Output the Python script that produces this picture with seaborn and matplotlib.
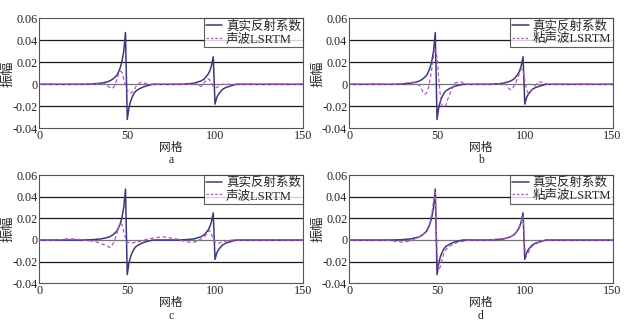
import matplotlib
matplotlib.use("Agg")
import matplotlib.pyplot as plt
import seaborn as sns
import pandas as pd

sns.set_theme(style="white")
plt.rcParams['font.family'] = ['Liberation Serif', 'Noto Sans CJK SC']
plt.rcParams['axes.unicode_minus'] = False

# ---------------- data ----------------
true_x = [0, 25, 30, 35, 38, 40, 42, 44, 45, 46, 47, 48, 49, 50, 51, 52, 53, 54, 55, 57, 59, 62, 65,
          80, 85, 88, 90, 92, 94, 95, 96, 97, 98, 99, 100, 101, 102, 103, 104, 106, 108, 110, 112, 150]
true_y = [0, 0, 0.0003, 0.001, 0.002, 0.003, 0.005, 0.008, 0.011, 0.015, 0.021, 0.03, 0.047, -0.032, -0.021,
          -0.015, -0.011, -0.008, -0.006, -0.004, -0.0025, -0.001, 0,
          0, 0.0005, 0.001, 0.002, 0.003, 0.005, 0.007, 0.009, 0.012, 0.017, 0.025, -0.018, -0.012,
          -0.009, -0.007, -0.005, -0.003, -0.002, -0.001, 0, 0]

a_x = [0, 30, 34, 36, 38, 40, 41, 42, 43, 44, 45, 46, 47, 48, 49, 50, 51, 52, 53, 54, 55, 56, 57, 58,
       60, 62, 64, 86, 89, 91, 92, 93, 94, 95, 96, 97, 98, 99, 100, 101, 102, 103, 104, 106, 150]
a_y = [0, 0, 0.001, 0.001, 0, -0.003, -0.004, -0.003, -0.001, 0.004, 0.009, 0.012, 0.011, 0.005, -0.001,
       -0.005, -0.007, -0.008, -0.007, -0.005, -0.002, 0, 0.001, 0.002, 0.001, 0, 0,
       0, 0.001, -0.001, -0.002, -0.001, 0.002, 0.004, 0.005, 0.004, 0.001, -0.002, -0.003, -0.003,
       -0.002, -0.001, 0, 0, 0]

b_x = [0, 28, 32, 36, 38, 40, 41, 42, 43, 44, 45, 46, 47, 48, 49, 50, 51, 52, 53, 54, 55, 56, 58,
       60, 62, 64, 66, 84, 87, 89, 90, 91, 92, 93, 94, 95, 96, 97, 98, 99, 100, 101, 102, 103, 104,
       105, 107, 108, 110, 113, 150]
b_y = [0, 0, 0.001, 0.002, 0.001, -0.001, -0.004, -0.007, -0.009, -0.008, -0.004, 0.004, 0.014, 0.025,
       0.031, 0.025, 0.005, -0.013, -0.02, -0.021, -0.019, -0.014, -0.006, 0.001, 0.002, 0.002, 0,
       0, 0.001, 0, -0.002, -0.004, -0.005, -0.004, -0.001, 0.002, 0.006, 0.01, 0.014, 0.013, 0.004,
       -0.005, -0.008, -0.007, -0.005, -0.003, 0.001, 0.002, 0.002, 0, 0]

c_x = [0, 10, 15, 20, 25, 30, 33, 36, 38, 40, 41, 42, 43, 44, 45, 46, 47, 48, 49, 50, 52, 55, 58, 62,
       66, 70, 74, 78, 82, 85, 88, 90, 92, 94, 95, 96, 97, 98, 99, 100, 102, 104, 106, 110, 150]
c_y = [0, 0, 0.001, 0.001, 0, -0.001, -0.002, -0.004, -0.005, -0.007, -0.006, -0.003, 0.001, 0.005,
       0.012, 0.016, 0.014, 0.008, 0.002, -0.002, -0.003, -0.002, -0.001, 0.001, 0.002, 0.003, 0.002,
       0.001, -0.001, -0.002, -0.002, -0.001, 0.001, 0.003, 0.005, 0.007, 0.009, 0.005, 0.001, -0.002,
       -0.003, -0.002, -0.001, 0, 0]

d_x = [0, 20, 25, 30, 35, 38, 40, 42, 44, 45, 46, 47, 48, 49, 50, 51, 52, 53, 54, 55, 57, 59, 62, 66,
       70, 80, 85, 88, 90, 92, 94, 95, 96, 97, 98, 99, 100, 101, 102, 103, 104, 106, 108, 110, 113, 150]
d_y = [0, 0, -0.001, -0.002, -0.001, 0.001, 0.003, 0.005, 0.009, 0.012, 0.016, 0.024, 0.036, 0.044,
       -0.012, -0.028, -0.024, -0.017, -0.012, -0.009, -0.006, -0.004, -0.002, -0.001,
       0, 0, 0.001, 0.001, 0.002, 0.003, 0.005, 0.007, 0.01, 0.013, 0.017, 0.022, -0.008, -0.015,
       -0.012, -0.008, -0.006, -0.004, -0.002, -0.001, 0, 0]

xticks = [0, 50, 100, 150]
yticks = [-0.04, -0.02, 0, 0.02, 0.04, 0.06]
ytick_labels = ['-0.04', '-0.02', '0', '0.02', '0.04', '0.06']
label_true = '真实反射系数'
label_ac = '声波LSRTM'
label_visc = '粘声波LSRTM'
xlabel = '网格'
ylabel = '振幅'
letters = ['a', 'b', 'c', 'd']

panels = [
    (a_x, a_y, label_ac),
    (b_x, b_y, label_visc),
    (c_x, c_y, label_ac),
    (d_x, d_y, label_visc),
]

TRUE_C = '#3b3b7c'
LS_C = '#b455c0'

fig = plt.figure(figsize=(6.39, 3.22), dpi=100)
lefts = [0.0618, 0.5466]
bottoms = [0.6016, 0.1202]
heights = [0.3416, 0.3363]
w = 0.4120

for i, (px, py, lab) in enumerate(panels):
    r, c = divmod(i, 2)
    ax = fig.add_axes([lefts[c], bottoms[r], w, heights[r]])
    for yv in [0.04, 0.02, -0.02]:
        ax.axhline(yv, color='#1a1a1a', lw=0.9, zorder=0)
    ax.axhline(0, color='#777777', lw=0.9, zorder=0)
    sns.lineplot(x=true_x, y=true_y, ax=ax, color=TRUE_C, lw=1.1, label=label_true, zorder=3)
    sns.lineplot(x=px, y=py, ax=ax, color=LS_C, lw=0.9, label=lab, zorder=4)
    ax.lines[-1].set_linestyle((0, (3, 2)))
    ax.set_xlim(0, 150)
    ax.set_ylim(-0.04, 0.06)
    ax.set_xticks(xticks)
    ax.set_yticks(yticks)
    ax.set_yticklabels(ytick_labels)
    ax.tick_params(length=0, pad=1.5, labelsize=8.7, colors='#222222')
    for s in ax.spines.values():
        s.set_color('#555555')
        s.set_linewidth(0.8)
    ax.set_xlabel(xlabel, fontsize=8.5, labelpad=0)
    ax.set_ylabel(ylabel, fontsize=9.5, va='center', ha='center')
    ax.yaxis.set_label_coords(-0.118, 0.5)
    leg = ax.legend(loc='upper right', fontsize=9, frameon=True, fancybox=False,
                    borderpad=0.15, handlelength=1.3, handletextpad=0.3,
                    labelspacing=0.05, borderaxespad=0.0)
    leg.get_frame().set_edgecolor('#333333')
    leg.get_frame().set_linewidth(0.8)
    leg.get_lines()[1].set_linestyle((0, (2, 1.5)))
    pos = ax.get_position()
    ytxt = 0.020 if r == 1 else 0.502
    fig.text(pos.x0 + pos.width / 2, ytxt, letters[i], ha='center', va='center', fontsize=8.5)

fig.savefig('out.png', dpi=100)
